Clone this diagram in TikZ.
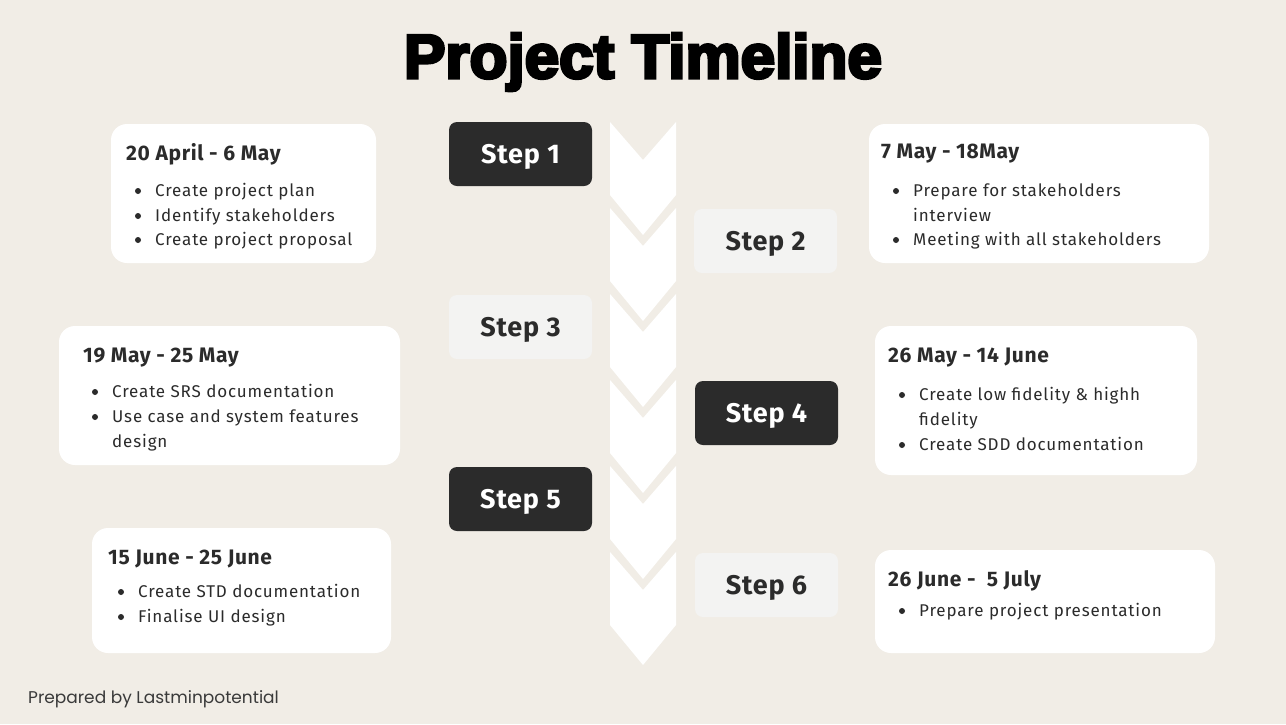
\documentclass[tikz,border=0pt]{standalone}
\usepackage{fontspec}
\setmainfont{Fira Sans}
\newfontfamily\bodyfont{Fira Sans}[LetterSpace=5]
\newfontfamily\stepfont{Fira Sans}[LetterSpace=3]
\newfontfamily\footfont{Poppins}
\newfontfamily\titlefont{Liberation Sans}[BoldFeatures={FakeBold=5}]
\definecolor{paper}{HTML}{F1EDE6}
\definecolor{ink}{HTML}{2B2B2B}
\definecolor{stepgrey}{HTML}{F3F3F2}
\definecolor{footgrey}{HTML}{3A3A3A}

\begin{document}
\begin{tikzpicture}[x=1pt, y=-1pt,
	infobox/.style={fill=white, rounded corners=16pt},
	stepbox/.style={rounded corners=8pt, minimum width=143pt, minimum height=64pt, inner sep=0pt,
		font=\stepfont\bfseries\fontsize{27}{27}\selectfont, text height=19pt, text depth=0pt},
	stepdark/.style={stepbox, fill=ink, text=white},
	steplight/.style={stepbox, fill=stepgrey, text=ink},
	datehead/.style={anchor=base west, inner sep=0pt, text=ink, font=\stepfont\bfseries\fontsize{21}{21}\selectfont},
	item/.style={anchor=base west, inner sep=0pt, text=ink, font=\bodyfont\fontsize{17}{17}\selectfont}]
	
	% Page
	\useasboundingbox (0,0) rectangle (1286,724);
	\fill[paper] (0,0) rectangle (1286,724);
	
	% Title
	\node[anchor=base, inner sep=0pt, font=\titlefont\bfseries\fontsize{62}{62}\selectfont] (title) at (643,78) {Project Timeline};
	
	% Chevron column
	\foreach \k in {0,...,5}
		\fill[white] (610,{122+86*\k}) -- (643,{160+86*\k}) -- (676,{122+86*\k})
			-- (676,{195+86*\k}) -- (643,{235+86*\k}) -- (610,{195+86*\k}) -- cycle;
	
	% Steps
	\node[stepdark] (step1) at (520.5,154) {Step 1};
	\node[steplight] (step2) at (765.5,241) {Step 2};
	\node[steplight] (step3) at (520.5,327) {Step 3};
	\node[stepdark] (step4) at (766.5,413) {Step 4};
	\node[stepdark] (step5) at (520.5,499) {Step 5};
	\node[steplight] (step6) at (766.5,585) {Step 6};
	
	% --- Step 1 ---
	\fill[infobox] (111,124) rectangle (376,263);
	\node[datehead] (date1) at (126,160) {20 April - 6 May};
	\node[item] (task1a) at (155,196) {Create project plan};
	\node[item] (task1b) at (155,221) {Identify stakeholders};
	\node[item] (task1c) at (155,245) {Create project proposal};
	
	% --- Step 2 ---
	\fill[infobox] (869,124) rectangle (1209,263);
	\node[datehead] (date2) at (881,158) {7 May - 18May};
	\node[item] (task2a) at (913,196) {Prepare for stakeholders};
	\node[item] (task2b) at (913,221) {interview};
	\node[item] (task2c) at (913,245) {Meeting with all stakeholders};
	
	% --- Step 3 ---
	\fill[infobox] (59,326) rectangle (400,465);
	\node[datehead] (date3) at (83,362) {19 May - 25 May};
	\node[item] (task3a) at (112,397) {Create SRS documentation};
	\node[item] (task3b) at (112,422) {Use case and system features};
	\node[item] (task3c) at (112,447) {design};
	
	% --- Step 4 ---
	\fill[infobox] (875,326) rectangle (1197,475);
	\node[datehead] (date4) at (888,362) {26 May - 14 June};
	\node[item] (task4a) at (919,400) {Create low fidelity \& highh};
	\node[item] (task4b) at (919,425) {fidelity};
	\node[item] (task4c) at (919,450) {Create SDD documentation};
	
	% --- Step 5 ---
	\fill[infobox] (92,528) rectangle (391,653);
	\node[datehead] (date5) at (108,564) {15 June - 25 June};
	\node[item] (task5a) at (138,597) {Create STD documentation};
	\node[item] (task5b) at (138,622) {Finalise UI design};
	
	% --- Step 6 ---
	\fill[infobox] (875,550) rectangle (1215,653);
	\node[datehead] (date6) at (888,586) {26 June -\ \ 5 July};
	\node[item] (task6a) at (919,616) {Prepare project presentation};
	
	% Bullets
	\foreach \t in {task1a,task1b,task1c,task2a,task2c,task3a,task3b,task4a,task4c,task5a,task5b,task6a}
		\fill[ink] (\t.base west) ++(-17,-5) circle (3pt);
	
	% Credit
	\node[anchor=base west, inner sep=0pt, text=footgrey, font=\footfont\fontsize{17}{17}\selectfont] (credit) at (28,703) {Prepared by Lastminpotential};
	
\end{tikzpicture}
\end{document}
